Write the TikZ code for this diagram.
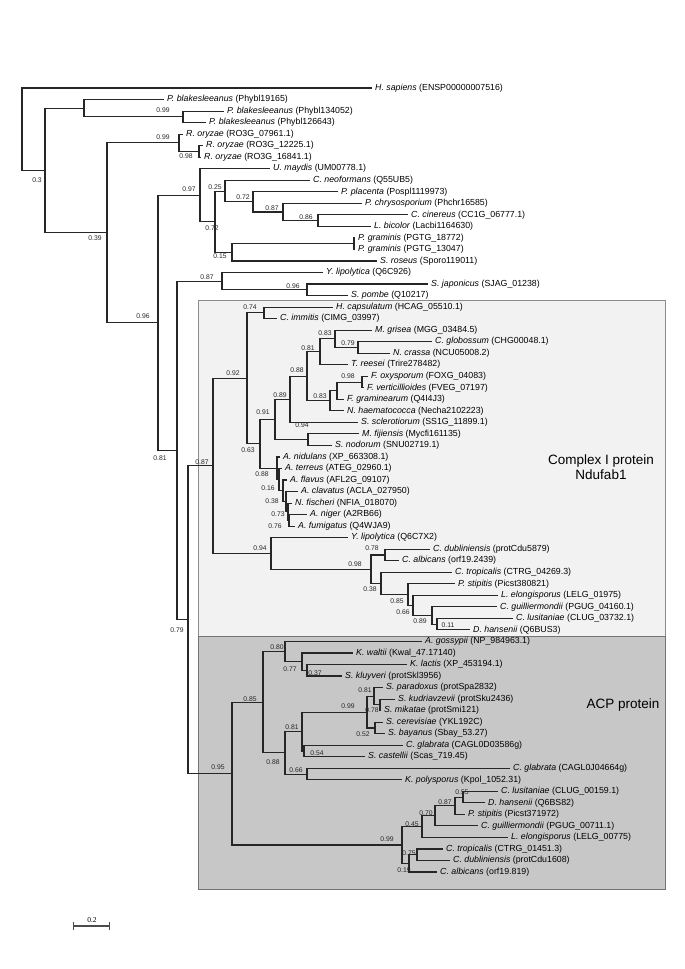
\documentclass[tikz,border=0pt]{standalone}
\usepackage{fontspec}
\setmainfont{Liberation Sans}
\newfontfamily\barfont{Liberation Serif}
\usepackage{tikz}
\usetikzlibrary{arrows.meta}

\begin{document}
\begin{tikzpicture}[
  x=1pt,
  y=-1pt,
  branch/.style={draw=black!85,line width=1.1pt},
  leaf/.style={anchor=west,inner xsep=3pt,inner ysep=0pt,font=\fontsize{8.8}{10}\selectfont},
  supp/.style={inner sep=0pt,font=\fontsize{6.8}{7}\selectfont,text=black!85},
  cplxbox/.style={fill=black!5,draw=black!45,line width=0.8pt},
  acpbox/.style={fill=black!22,draw=black!55,line width=0.8pt},
  boxlabel/.style={align=center,font=\fontsize{13.5}{15}\selectfont}
]
  \useasboundingbox (0,0) rectangle (685,969);

  % shaded groups
  \draw[cplxbox] (198,300) rectangle (665,636);
  \draw[acpbox] (198,636) rectangle (665,889);
  \node[boxlabel] (cplxlab) at (601,467) {Complex I protein\\Ndufab1};
  \node[boxlabel] (acplab) at (623,705) {ACP protein};

  % internal nodes
  \coordinate (root) at (22,129.25);
  \coordinate (nB) at (45,170.5);
  \coordinate (phyA) at (84,108.2);
  \coordinate (phyB) at (183,116.85);
  \coordinate (nO) at (107,232.8);
  \coordinate (rhiA) at (179,142.8);
  \coordinate (rhiB) at (199,151.45);
  \coordinate (nD) at (158,322.8);
  \coordinate (basA) at (200,195.2);
  \coordinate (basB) at (215,221.7);
  \coordinate (basC) at (225,191.05);
  \coordinate (basD) at (253,201.9);
  \coordinate (basE) at (283,211.95);
  \coordinate (basF) at (318,220.6);
  \coordinate (basG) at (232,252.3);
  \coordinate (pucA) at (354,243.65);
  \coordinate (nE) at (177,450.4);
  \coordinate (yarA) at (222,281.1);
  \coordinate (schA) at (307,289.75);
  \coordinate (nF) at (188,619.75);
  \coordinate (cxA) at (213,465.9);
  \coordinate (pezA) at (247,378.4);
  \coordinate (onyA) at (264,312.85);
  \coordinate (pezB) at (260,443.9);
  \coordinate (sorA) at (275,419.5);
  \coordinate (sorB) at (290,399.3);
  \coordinate (sorC) at (307,376.25);
  \coordinate (sorD) at (320,351.75);
  \coordinate (magA) at (335,338.8);
  \coordinate (magB) at (358,347.45);
  \coordinate (fusA) at (330,400.75);
  \coordinate (fusB) at (337,390.7);
  \coordinate (fusC) at (362,382.05);
  \coordinate (dotA) at (308,439.65);
  \coordinate (aspA) at (277,468.3);
  \coordinate (aspB) at (279,479.65);
  \coordinate (aspC) at (283,490.8);
  \coordinate (aspD) at (286,501.65);
  \coordinate (aspE) at (288,511.7);
  \coordinate (aspF) at (289,520.35);
  \coordinate (sacA) at (271,553.45);
  \coordinate (sacB) at (371,569.2);
  \coordinate (canA) at (385,554.95);
  \coordinate (sacC) at (381,583.45);
  \coordinate (sacD) at (408,594.6);
  \coordinate (sacE) at (413,605.4);
  \coordinate (sacF) at (432,615.5);
  \coordinate (sacG) at (437,624.15);
  \coordinate (acA) at (232,773.6);
  \coordinate (acB) at (263,702.15);
  \coordinate (acC) at (285,651.5);
  \coordinate (acD) at (302,661.6);
  \coordinate (acE) at (307,670.25);
  \coordinate (acF) at (285,752.8);
  \coordinate (acG) at (302,731.5);
  \coordinate (acH) at (367,712.1);
  \coordinate (sstA) at (374,696.2);
  \coordinate (sstB) at (380,704.85);
  \coordinate (sstC) at (375,727.95);
  \coordinate (acI) at (304,750.95);
  \coordinate (acJ) at (307,774.05);
  \coordinate (acK) at (402,845.0);
  \coordinate (acL) at (422,826.65);
  \coordinate (acM) at (435,815.8);
  \coordinate (acN) at (455,805.75);
  \coordinate (acO) at (463,797.1);
  \coordinate (acP) at (409,863.4);
  \coordinate (acQ) at (417,854.75);

  % leaves
  \node[leaf] (l00) at (372,88.0) {\textit{H. sapiens} (ENSP00000007516)};
  \node[leaf] (l01) at (164,99.5) {\textit{P. blakesleeanus} (Phybl19165)};
  \node[leaf] (l02) at (224,111.1) {\textit{P. blakesleeanus} (Phybl134052)};
  \node[leaf] (l03) at (206,122.6) {\textit{P. blakesleeanus} (Phybl126643)};
  \node[leaf] (l04) at (183,134.1) {\textit{R. oryzae} (RO3G\_07961.1)};
  \node[leaf] (l05) at (203,145.7) {\textit{R. oryzae} (RO3G\_12225.1)};
  \node[leaf] (l06) at (201,157.2) {\textit{R. oryzae} (RO3G\_16841.1)};
  \node[leaf] (l07) at (270,168.7) {\textit{U. maydis} (UM00778.1)};
  \node[leaf] (l08) at (310,180.2) {\textit{C. neoformans} (Q55UB5)};
  \node[leaf] (l09) at (338,191.8) {\textit{P. placenta} (Pospl1119973)};
  \node[leaf] (l10) at (362,203.3) {\textit{P. chrysosporium} (Phchr16585)};
  \node[leaf] (l11) at (408,214.8) {\textit{C. cinereus} (CC1G\_06777.1)};
  \node[leaf] (l12) at (371,226.4) {\textit{L. bicolor} (Lacbi1164630)};
  \node[leaf] (l13) at (355,237.9) {\textit{P. graminis} (PGTG\_18772)};
  \node[leaf] (l14) at (355,249.4) {\textit{P. graminis} (PGTG\_13047)};
  \node[leaf] (l15) at (377,261.0) {\textit{S. roseus} (Sporo119011)};
  \node[leaf] (l16) at (323,272.5) {\textit{Y. lipolytica} (Q6C926)};
  \node[leaf] (l17) at (428,284.0) {\textit{S. japonicus} (SJAG\_01238)};
  \node[leaf] (l18) at (348,295.5) {\textit{S. pombe} (Q10217)};
  \node[leaf] (l19) at (333,307.1) {\textit{H. capsulatum} (HCAG\_05510.1)};
  \node[leaf] (l20) at (277,318.6) {\textit{C. immitis} (CIMG\_03997)};
  \node[leaf] (l21) at (372,330.1) {\textit{M. grisea} (MGG\_03484.5)};
  \node[leaf] (l22) at (432,341.7) {\textit{C. globossum} (CHG00048.1)};
  \node[leaf] (l23) at (390,353.2) {\textit{N. crassa} (NCU05008.2)};
  \node[leaf] (l24) at (348,364.7) {\textit{T. reesei} (Trire278482)};
  \node[leaf] (l25) at (368,376.3) {\textit{F. oxysporum} (FOXG\_04083)};
  \node[leaf] (l26) at (364,387.8) {\textit{F. verticillioides} (FVEG\_07197)};
  \node[leaf] (l27) at (344,399.3) {\textit{F. graminearum} (Q4I4J3)};
  \node[leaf] (l28) at (344,410.8) {\textit{N. haematococca} (Necha2102223)};
  \node[leaf] (l29) at (358,422.4) {\textit{S. sclerotiorum} (SS1G\_11899.1)};
  \node[leaf] (l30) at (359,433.9) {\textit{M. fijiensis} (Mycfi161135)};
  \node[leaf] (l31) at (332,445.4) {\textit{S. nodorum} (SNU02719.1)};
  \node[leaf] (l32) at (280,457.0) {\textit{A. nidulans} (XP\_663308.1)};
  \node[leaf] (l33) at (282,468.5) {\textit{A. terreus} (ATEG\_02960.1)};
  \node[leaf] (l34) at (287,480.0) {\textit{A. flavus} (AFL2G\_09107)};
  \node[leaf] (l35) at (298,491.6) {\textit{A. clavatus} (ACLA\_027950)};
  \node[leaf] (l36) at (292,503.1) {\textit{N. fischeri} (NFIA\_018070)};
  \node[leaf] (l37) at (307,514.6) {\textit{A. niger} (A2RB66)};
  \node[leaf] (l38) at (295,526.1) {\textit{A. fumigatus} (Q4WJA9)};
  \node[leaf] (l39) at (348,537.7) {\textit{Y. lipolytica} (Q6C7X2)};
  \node[leaf] (l40) at (430,549.2) {\textit{C. dubliniensis} (protCdu5879)};
  \node[leaf] (l41) at (399,560.7) {\textit{C. albicans} (orf19.2439)};
  \node[leaf] (l42) at (452,572.3) {\textit{C. tropicalis} (CTRG\_04269.3)};
  \node[leaf] (l43) at (455,583.8) {\textit{P. stipitis} (Picst380821)};
  \node[leaf] (l44) at (498,595.3) {\textit{L. elongisporus} (LELG\_01975)};
  \node[leaf] (l45) at (497,606.9) {\textit{C. guilliermondii} (PGUG\_04160.1)};
  \node[leaf] (l46) at (513,618.4) {\textit{C. lusitaniae} (CLUG\_03732.1)};
  \node[leaf] (l47) at (470,629.9) {\textit{D. hansenii} (Q6BUS3)};
  \node[leaf] (l48) at (422,641.4) {\textit{A. gossypii} (NP\_984963.1)};
  \node[leaf] (l49) at (353,653.0) {\textit{K. waltii} (Kwal\_47.17140)};
  \node[leaf] (l50) at (407,664.5) {\textit{K. lactis} (XP\_453194.1)};
  \node[leaf] (l51) at (342,676.0) {\textit{S. kluyveri} (protSkl3956)};
  \node[leaf] (l52) at (383,687.6) {\textit{S. paradoxus} (protSpa2832)};
  \node[leaf] (l53) at (395,699.1) {\textit{S. kudriavzevii} (protSku2436)};
  \node[leaf] (l54) at (381,710.6) {\textit{S. mikatae} (protSmi121)};
  \node[leaf] (l55) at (383,722.2) {\textit{S. cerevisiae} (YKL192C)};
  \node[leaf] (l56) at (385,733.7) {\textit{S. bayanus} (Sbay\_53.27)};
  \node[leaf] (l57) at (403,745.2) {\textit{C. glabrata} (CAGL0D03586g)};
  \node[leaf] (l58) at (365,756.7) {\textit{S. castellii} (Scas\_719.45)};
  \node[leaf] (l59) at (510,768.3) {\textit{C. glabrata} (CAGL0J04664g)};
  \node[leaf] (l60) at (402,779.8) {\textit{K. polysporus} (Kpol\_1052.31)};
  \node[leaf] (l61) at (498,791.3) {\textit{C. lusitaniae} (CLUG\_00159.1)};
  \node[leaf] (l62) at (485,802.9) {\textit{D. hansenii} (Q6BS82)};
  \node[leaf] (l63) at (465,814.4) {\textit{P. stipitis} (Picst371972)};
  \node[leaf] (l64) at (478,825.9) {\textit{C. guilliermondii} (PGUG\_00711.1)};
  \node[leaf] (l65) at (508,837.5) {\textit{L. elongisporus} (LELG\_00775)};
  \node[leaf] (l66) at (443,849.0) {\textit{C. tropicalis} (CTRG\_01451.3)};
  \node[leaf] (l67) at (450,860.5) {\textit{C. dubliniensis} (protCdu1608)};
  \node[leaf] (l68) at (437,872.0) {\textit{C. albicans} (orf19.819)};

  % branches
  \draw[branch] (root) |- (l00.west) (root) |- (nB);
  \draw[branch] (nB) |- (phyA) (nB) |- (nO);
  \draw[branch] (phyA) |- (l01.west) (phyA) |- (phyB);
  \draw[branch] (phyB) |- (l02.west) (phyB) |- (l03.west);
  \draw[branch] (nO) |- (rhiA) (nO) |- (nD);
  \draw[branch] (rhiA) |- (l04.west) (rhiA) |- (rhiB);
  \draw[branch] (rhiB) |- (l05.west) (rhiB) |- (l06.west);
  \draw[branch] (nD) |- (basA) (nD) |- (nE);
  \draw[branch] (basA) |- (l07.west) (basA) |- (basB);
  \draw[branch] (basB) |- (basC) (basB) |- (basG);
  \draw[branch] (basC) |- (l08.west) (basC) |- (basD);
  \draw[branch] (basD) |- (l09.west) (basD) |- (basE);
  \draw[branch] (basE) |- (l10.west) (basE) |- (basF);
  \draw[branch] (basF) |- (l11.west) (basF) |- (l12.west);
  \draw[branch] (basG) |- (pucA) (basG) |- (l15.west);
  \draw[branch] (pucA) |- (l13.west) (pucA) |- (l14.west);
  \draw[branch] (nE) |- (yarA) (nE) |- (nF);
  \draw[branch] (yarA) |- (l16.west) (yarA) |- (schA);
  \draw[branch] (schA) |- (l17.west) (schA) |- (l18.west);
  \draw[branch] (nF) |- (cxA) (nF) |- (acA);
  \draw[branch] (cxA) |- (pezA) (cxA) |- (sacA);
  \draw[branch] (pezA) |- (onyA) (pezA) |- (pezB);
  \draw[branch] (onyA) |- (l19.west) (onyA) |- (l20.west);
  \draw[branch] (pezB) |- (sorA) (pezB) |- (aspA);
  \draw[branch] (sorA) |- (sorB) (sorA) |- (dotA);
  \draw[branch] (sorB) |- (sorC) (sorB) |- (l29.west);
  \draw[branch] (sorC) |- (sorD) (sorC) |- (fusA);
  \draw[branch] (sorD) |- (magA) (sorD) |- (l24.west);
  \draw[branch] (magA) |- (l21.west) (magA) |- (magB);
  \draw[branch] (magB) |- (l22.west) (magB) |- (l23.west);
  \draw[branch] (fusA) |- (fusB) (fusA) |- (l28.west);
  \draw[branch] (fusB) |- (fusC) (fusB) |- (l27.west);
  \draw[branch] (fusC) |- (l25.west) (fusC) |- (l26.west);
  \draw[branch] (dotA) |- (l30.west) (dotA) |- (l31.west);
  \draw[branch] (aspA) |- (l32.west) (aspA) |- (aspB);
  \draw[branch] (aspB) |- (l33.west) (aspB) |- (aspC);
  \draw[branch] (aspC) |- (l34.west) (aspC) |- (aspD);
  \draw[branch] (aspD) |- (l35.west) (aspD) |- (aspE);
  \draw[branch] (aspE) |- (l36.west) (aspE) |- (aspF);
  \draw[branch] (aspF) |- (l37.west) (aspF) |- (l38.west);
  \draw[branch] (sacA) |- (l39.west) (sacA) |- (sacB);
  \draw[branch] (sacB) |- (canA) (sacB) |- (sacC);
  \draw[branch] (canA) |- (l40.west) (canA) |- (l41.west);
  \draw[branch] (sacC) |- (l42.west) (sacC) |- (sacD);
  \draw[branch] (sacD) |- (l43.west) (sacD) |- (sacE);
  \draw[branch] (sacE) |- (l44.west) (sacE) |- (sacF);
  \draw[branch] (sacF) |- (l45.west) (sacF) |- (sacG);
  \draw[branch] (sacG) |- (l46.west) (sacG) |- (l47.west);
  \draw[branch] (acA) |- (acB) (acA) |- (acK);
  \draw[branch] (acB) |- (acC) (acB) |- (acF);
  \draw[branch] (acC) |- (l48.west) (acC) |- (acD);
  \draw[branch] (acD) |- (l49.west) (acD) |- (acE);
  \draw[branch] (acE) |- (l50.west) (acE) |- (l51.west);
  \draw[branch] (acF) |- (acG) (acF) |- (acJ);
  \draw[branch] (acG) |- (acH) (acG) |- (acI);
  \draw[branch] (acH) |- (sstA) (acH) |- (sstC);
  \draw[branch] (sstA) |- (l52.west) (sstA) |- (sstB);
  \draw[branch] (sstB) |- (l53.west) (sstB) |- (l54.west);
  \draw[branch] (sstC) |- (l55.west) (sstC) |- (l56.west);
  \draw[branch] (acI) |- (l57.west) (acI) |- (l58.west);
  \draw[branch] (acJ) |- (l59.west) (acJ) |- (l60.west);
  \draw[branch] (acK) |- (acL) (acK) |- (acP);
  \draw[branch] (acL) |- (acM) (acL) |- (l65.west);
  \draw[branch] (acM) |- (acN) (acM) |- (l64.west);
  \draw[branch] (acN) |- (acO) (acN) |- (l63.west);
  \draw[branch] (acO) |- (l61.west) (acO) |- (l62.west);
  \draw[branch] (acP) |- (acQ) (acP) |- (l68.west);
  \draw[branch] (acQ) |- (l66.west) (acQ) |- (l67.west);

  % support values
  \node[supp] (bnB) at (37,180) {0.3};
  \node[supp] (bphyB) at (163,110) {0.99};
  \node[supp] (bnO) at (95,238) {0.39};
  \node[supp] (brhiA) at (163,137) {0.99};
  \node[supp] (brhiB) at (186,156) {0.98};
  \node[supp] (bbasA) at (189,189) {0.97};
  \node[supp] (bbasC) at (215,187) {0.25};
  \node[supp] (bbasD) at (243,197) {0.72};
  \node[supp] (bbasE) at (272,208) {0.87};
  \node[supp] (bbasF) at (306,217) {0.86};
  \node[supp] (bbasB) at (212,228) {0.72};
  \node[supp] (bbasG) at (220,256) {0.15};
  \node[supp] (bnD) at (143,316) {0.96};
  \node[supp] (byarA) at (207,277) {0.87};
  \node[supp] (bschA) at (293,286) {0.96};
  \node[supp] (bonyA) at (250,307) {0.74};
  \node[supp] (bmagA) at (325,333) {0.83};
  \node[supp] (bmagB) at (348,343) {0.79};
  \node[supp] (bsorD) at (308,348) {0.81};
  \node[supp] (bsorC) at (297,370) {0.88};
  \node[supp] (bfusC) at (348,376) {0.98};
  \node[supp] (bfusA) at (320,396) {0.83};
  \node[supp] (bsorB) at (280,395) {0.89};
  \node[supp] (bpezA) at (233,373) {0.92};
  \node[supp] (bsorA) at (263,412) {0.91};
  \node[supp] (bdotA) at (302,425) {0.94};
  \node[supp] (bpezB) at (248,450) {0.63};
  \node[supp] (bnE) at (160,458) {0.81};
  \node[supp] (bcxA) at (202,462) {0.87};
  \node[supp] (baspA) at (262,474) {0.88};
  \node[supp] (baspB) at (268,488) {0.16};
  \node[supp] (baspC) at (272,501) {0.38};
  \node[supp] (baspD) at (278,514) {0.73};
  \node[supp] (baspE) at (275,526) {0.76};
  \node[supp] (bsacA) at (260,548) {0.94};
  \node[supp] (bcanA) at (372,548) {0.78};
  \node[supp] (bsacB) at (355,564) {0.98};
  \node[supp] (bsacC) at (370,589) {0.38};
  \node[supp] (bsacD) at (397,601) {0.85};
  \node[supp] (bsacE) at (403,612) {0.66};
  \node[supp] (bsacF) at (420,621) {0.89};
  \node[supp] (bsacG) at (448,625) {0.11};
  \node[supp] (bnF) at (177,630) {0.79};
  \node[supp] (bacC) at (277,647) {0.80};
  \node[supp] (bacD) at (290,669) {0.77};
  \node[supp] (bacE) at (315,673) {0.37};
  \node[supp] (bacB) at (250,699) {0.85};
  \node[supp] (bsstA) at (365,690) {0.81};
  \node[supp] (bacH) at (348,706) {0.99};
  \node[supp] (bsstB) at (372,710) {0.78};
  \node[supp] (bsstC) at (363,734) {0.52};
  \node[supp] (bacG) at (292,727) {0.81};
  \node[supp] (bacI) at (317,753) {0.54};
  \node[supp] (bacF) at (273,762) {0.88};
  \node[supp] (bacJ) at (296,770) {0.66};
  \node[supp] (bacA) at (218,767) {0.95};
  \node[supp] (bacO) at (462,792) {0.55};
  \node[supp] (bacN) at (445,802) {0.87};
  \node[supp] (bacM) at (426,813) {0.70};
  \node[supp] (bacL) at (412,824) {0.45};
  \node[supp] (bacK) at (387,839) {0.99};
  \node[supp] (bacQ) at (409,853) {0.75};
  \node[supp] (bacP) at (404,870) {0.19};

  % scale bar
  \coordinate (sbL) at (73,926);
  \coordinate (sbR) at (110,926);
  \draw[{Bar[width=8pt]}-{Bar[width=8pt]},line width=1.1pt,black!70] (sbL) -- (sbR);
  \node[font=\barfont\fontsize{7.5}{8}\selectfont,inner sep=0pt] (sblab) at (92,920) {0.2};
\end{tikzpicture}
\end{document}
